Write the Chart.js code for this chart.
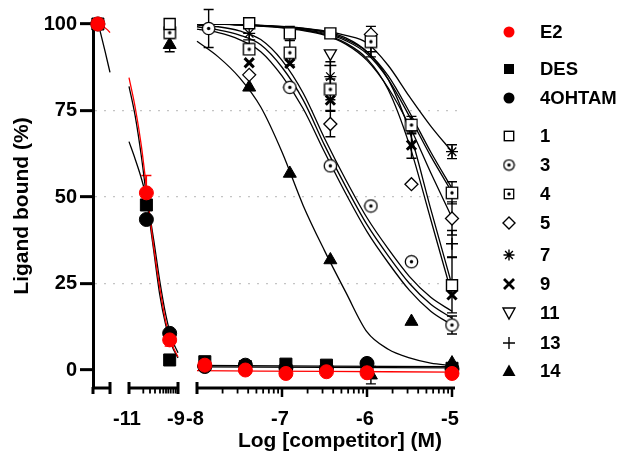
<!DOCTYPE html>
<html>
<head>
<meta charset="utf-8">
<script src="https://cdn.jsdelivr.net/npm/chart.js@4.4.1/dist/chart.umd.min.js"></script>
<style>
  html, body { margin: 0; padding: 0; background: #fff; }
  #wrap { width: 626px; height: 461px; }
</style>
</head>
<body>
<div id="wrap"><canvas id="myChart" width="626" height="461"></canvas></div>
<script>
"use strict";
// ---- data: x values are log [competitor] (M), y values are % ligand bound ----
const refLog = [-11.8, -10.29, -9.34, -7.908, -7.431, -6.954, -6.477, -6, -5];
const e2Bound = [100, 51.2, 8.7, 1.4, 0, -1.0, -0.5, -0.8, -1.0];
const e2Err = [0, 5, 1.8, 0, 0, 0, 0, 0, 0];
const desBound = [100, 47.7, 2.9, 2.4, 1.0, 1.7, 1.4, 0.8, 0.5];
const ohtBound = [100, 43.5, 10.6, 1.0, 1.4, 0.6, 0.5, 1.9, 0.3];

const cmpLog = [-9.34, -7.863, -7.386, -6.908, -6.431, -5.954, -5.477, -5];
const c1 = [100, null, 100.2, 97.3, 97.3, null, null, 24.5];
const c1Err = [0, 0, 0, 2, 0, 0, 0, 8];
const c3 = [null, 98.7, null, 81.7, 59, 47.4, 31.3, 13];
const c3Err = [0, 5.5, 0, 0, 0, 0, 0, 2.6];
const c4 = [97.5, null, 92.7, 91.7, 81.1, 94.9, 70.8, 51.2];
const c4Err = [0, 0, 0, 3.5, 3, 4.4, 2.5, 3.2];
const c5 = [null, null, 85.3, null, 71.1, 97, 53.7, 43.8];
const c5Err = [0, 0, 0, 0, 3.7, 0, 0, 4.8];
const c7 = [null, null, 97.3, null, 84.8, null, null, 63.1];
const c7Err = [0, 0, 0, 0, 4.3, 0, 0, 2];
const c9 = [null, null, 88.8, 88.6, 78, null, 65, 21.7];
const c9Err = [0, 0, 0, 0, 3, 0, 3.8, 0];
const c11 = [null, null, null, null, 91.5, null, null, null];
const c13 = [null, null, 95.4, null, 88, 92, null, 36.5];
const c13Err = [0, 0, 0, 0, 0, 0, 0, 3.8];
const c14 = [94, null, 81.7, 56.8, 31.8, -1.5, 14, 2];
const c14Err = [2, 0, 0, 0, 0, 2.5, 0, 0];

// fitted curves
const seg1FitLog = [-11.8, -11.6, -11.4, -11.3];
const e2FitSeg1 = [100, 99.3, 98.3, 97.5];
const desFitSeg1Log = [-11.72, -11.5, -11.3];
const desFitSeg1 = [98.3, 92, 86];
const seg2FitLog = [-11, -10.75, -10.5, -10.25, -10, -9.75, -9.5, -9.25, -9];
const e2FitSeg2 = [84.5, 76, 65, 50.5, 36, 24, 14, 7.5, 3.8];
const desFitSeg2 = [82, 73.5, 62, 48, 35, 22, 13, 7, 3.5];
const ohtFitSeg2 = [66, 61, 55.5, 48.5, 38, 26, 16, 9, 5];
const refFitSeg3Log = [-8, -6.5, -5];
const e2FitSeg3 = [-0.2, -0.4, -0.6];
const desFitSeg3 = [1.3, 1.15, 1.0];
const ohtFitSeg3 = [0.9, 0.75, 0.6];

const fitLog = [-8, -7.75, -7.5, -7.25, -7, -6.75, -6.5, -6.25, -6, -5.75, -5.5, -5.25, -5];
const fit1 = [100, 100, 99.8, 99.6, 99.2, 98.7, 97.8, 96, 92, 84, 69, 46.5, 24.5];
const fit9 = [100, 100, 99.8, 99.5, 99, 98.3, 97, 94.5, 90, 81, 65, 43.5, 21.7];
const fit4 = [100, 100, 99.8, 99.5, 99.2, 98.6, 97.6, 95.6, 92, 85, 74.5, 63, 52.5];
const fit11 = [100, 100, 99.8, 99.5, 99.1, 98.4, 97.3, 95.2, 91.4, 84, 73.3, 61.8, 51.4];
const fit5 = [100, 100, 99.7, 99.4, 98.9, 98.1, 96.8, 94.2, 89.5, 81.5, 70.5, 57, 44];
const fit7 = [100, 100, 99.8, 99.6, 99.3, 98.8, 98, 96.7, 94.5, 88, 79, 70.5, 63.1];
const fit3 = [98.5, 97.5, 95.5, 92, 85, 75.5, 63, 51, 40, 31, 23, 17, 13];
const fit13 = [99.2, 98.3, 96.8, 94, 87.5, 78, 65, 53, 42, 33, 25, 19, 15];
const fit5b = [99.7, 99.2, 98, 95.5, 89.5, 80, 67, 55, 44, 35, 27, 21, 17];
const fit14 = [95, 90.5, 84.5, 76, 63, 47.5, 34.5, 22.5, 11, 6, 3.5, 2, 1.3];

const yTicks = [0, 25, 50, 75, 100];
const xTickValues = [-11, -9, -8, -7, -6, -5];
const xTickLabels = ['-11', '-9', '-8', '-7', '-6', '-5'];
const seg2MinorLog = [-10.416, -10.143, -9.939, -9.735, -9.6, -9.49, -9.396, -9.298, -9.19, -9.094];

// ---- broken x axis: each piece of the log axis gets its own stretch ----
const breaks = [
  { from: -12, to: -11.3, start: 0, end: 17 },
  { from: -11, to: -9, start: 36, end: 85 },
  { from: -8, to: -5, start: 104, end: 359 }
];
function axisPos(v) {
  for (const b of breaks) {
    if (v >= b.from - 1e-9 && v <= b.to + 1e-9) {
      return b.start + (v - b.from) / (b.to - b.from) * (b.end - b.start);
    }
  }
  return NaN;
}

const FONT = "'Liberation Sans', Arial, Helvetica, sans-serif";
Chart.defaults.font.family = FONT;

function markerCanvas(kind, size, lw) {
  const c = document.createElement('canvas');
  c.width = size;
  c.height = size;
  const g = c.getContext('2d');
  const m = size / 2;
  g.lineWidth = lw;
  g.strokeStyle = '#000';
  g.fillStyle = '#fff';
  if (kind === 'circle') {
    g.beginPath();
    g.arc(m, m, m - lw, 0, 2 * Math.PI);
    g.fill();
    g.stroke();
  } else {
    g.fillRect(lw, lw, size - 2 * lw, size - 2 * lw);
    g.strokeRect(lw, lw, size - 2 * lw, size - 2 * lw);
  }
  g.fillStyle = '#000';
  g.beginPath();
  g.arc(m, m, 1.7, 0, 2 * Math.PI);
  g.fill();
  return c;
}
const circleDot = markerCanvas('circle', 15, 1.3);
const squareDot = markerCanvas('square', 14, 1.3);
const circleDotSmall = markerCanvas('circle', 13, 1.3);
const squareDotSmall = markerCanvas('square', 12, 1.3);

function pts(xs, ys, errs) {
  const out = [];
  xs.forEach((x, i) => {
    if (ys[i] === null) return;
    out.push({ x: axisPos(x), y: ys[i], err: errs ? errs[i] : 0 });
  });
  return out;
}

function curve(label, xs, ys, color, order) {
  return {
    label: label, data: pts(xs, ys), showLine: true, borderColor: color,
    borderWidth: 1.3, pointRadius: 0, cubicInterpolationMode: 'monotone',
    fill: false, order: order, isFit: true
  };
}

const series = [
  { name: 'E2', xs: refLog, ys: e2Bound, errs: e2Err, color: '#ff0000', style: { pointStyle: 'circle', radius: 7, fill: '#ff0000', border: '#ff0000', bw: 1 }, order: 1 },
  { name: 'DES', xs: refLog, ys: desBound, errs: null, color: '#000', style: { pointStyle: 'rect', radius: 8.5, fill: '#000', border: '#000', bw: 1 }, order: 3 },
  { name: '4OHTAM', xs: refLog, ys: ohtBound, errs: null, color: '#000', style: { pointStyle: 'circle', radius: 7, fill: '#000', border: '#000', bw: 1 }, order: 2 },
  { name: '1', xs: cmpLog, ys: c1, errs: c1Err, color: '#000', style: { pointStyle: 'rect', radius: 7.8, fill: '#fff', border: '#000', bw: 1.4 }, order: 4 },
  { name: '3', xs: cmpLog, ys: c3, errs: c3Err, color: '#000', style: { pointStyle: circleDot, radius: 7, fill: '#fff', border: '#000', bw: 1 }, order: 5 },
  { name: '4', xs: cmpLog, ys: c4, errs: c4Err, color: '#000', style: { pointStyle: squareDot, radius: 7, fill: '#fff', border: '#000', bw: 1 }, order: 6 },
  { name: '5', xs: cmpLog, ys: c5, errs: c5Err, color: '#000', style: { pointStyle: 'rectRot', radius: 6.5, fill: '#fff', border: '#000', bw: 1.3 }, order: 7 },
  { name: '7', xs: cmpLog, ys: c7, errs: c7Err, color: '#000', style: { pointStyle: 'star', radius: 6, fill: '#000', border: '#000', bw: 1.3 }, order: 8 },
  { name: '9', xs: cmpLog, ys: c9, errs: c9Err, color: '#000', style: { pointStyle: 'crossRot', radius: 6.5, fill: '#000', border: '#000', bw: 3 }, order: 9 },
  { name: '11', xs: cmpLog, ys: c11, errs: null, color: '#000', style: { pointStyle: 'triangle', rotation: 180, radius: 7, fill: '#fff', border: '#000', bw: 1.3 }, order: 10 },
  { name: '13', xs: cmpLog, ys: c13, errs: c13Err, color: '#000', style: { pointStyle: 'cross', radius: 6, fill: '#000', border: '#000', bw: 1.4 }, order: 11 },
  { name: '14', xs: cmpLog, ys: c14, errs: c14Err, color: '#000', style: { pointStyle: 'triangle', radius: 7.5, fill: '#000', border: '#000', bw: 1 }, order: 12 }
];

const datasets = series.map(s => ({
  label: s.name,
  data: pts(s.xs, s.ys, s.errs),
  showLine: false,
  pointStyle: s.style.pointStyle,
  rotation: s.style.rotation || 0,
  pointRadius: s.style.radius,
  pointBackgroundColor: s.style.fill,
  pointBorderColor: s.style.border,
  pointBorderWidth: s.style.bw,
  borderColor: s.color,
  backgroundColor: s.style.fill,
  order: s.order,
  clip: false
}));

datasets.push(
  curve('E2 fit', seg1FitLog, e2FitSeg1, '#ff0000', 20),
  curve('E2 fit', seg2FitLog, e2FitSeg2, '#ff0000', 20),
  curve('E2 fit', refFitSeg3Log, e2FitSeg3, '#ff0000', 20),
  curve('DES fit', desFitSeg1Log, desFitSeg1, '#000', 21),
  curve('DES fit', seg2FitLog, desFitSeg2, '#000', 21),
  curve('DES fit', refFitSeg3Log, desFitSeg3, '#000', 21),
  curve('4OHTAM fit', seg2FitLog, ohtFitSeg2, '#000', 22),
  curve('4OHTAM fit', refFitSeg3Log, ohtFitSeg3, '#000', 22),
  curve('1 fit', fitLog, fit1, '#000', 23),
  curve('3 fit', fitLog, fit3, '#000', 23),
  curve('4 fit', fitLog, fit4, '#000', 23),
  curve('5 fit', fitLog, fit5, '#000', 23),
  curve('5b fit', fitLog, fit5b, '#000', 23),
  curve('7 fit', fitLog, fit7, '#000', 23),
  curve('9 fit', fitLog, fit9, '#000', 23),
  curve('11 fit', fitLog, fit11, '#000', 23),
  curve('13 fit', fitLog, fit13, '#000', 23),
  curve('14 fit', fitLog, fit14, '#000', 23)
);

// ---- plugins ----
const errorBars = {
  id: 'errorBars',
  beforeDatasetsDraw(chart) {
    const { ctx, scales: { x, y } } = chart;
    ctx.save();
    chart.data.datasets.forEach(ds => {
      if (ds.isFit) return;
      ds.data.forEach(p => {
        if (!p.err) return;
        const px = x.getPixelForValue(p.x);
        const top = y.getPixelForValue(p.y + p.err);
        const bot = y.getPixelForValue(p.y - p.err);
        ctx.strokeStyle = ds.borderColor;
        ctx.lineWidth = 1.4;
        ctx.beginPath();
        ctx.moveTo(px, top); ctx.lineTo(px, bot);
        ctx.moveTo(px - 5, top); ctx.lineTo(px + 5, top);
        ctx.moveTo(px - 5, bot); ctx.lineTo(px + 5, bot);
        ctx.stroke();
      });
    });
    ctx.restore();
  }
};

function seg(ctx, x1, y1, x2, y2, w) {
  ctx.lineWidth = w;
  ctx.beginPath();
  ctx.moveTo(x1, y1);
  ctx.lineTo(x2, y2);
  ctx.stroke();
}

const brokenAxis = {
  id: 'brokenAxis',
  afterDraw(chart) {
    const { ctx, chartArea, scales: { x, y } } = chart;
    const ya = y.getPixelForValue(y.min);
    ctx.save();
    ctx.strokeStyle = '#000';
    ctx.fillStyle = '#000';
    // y axis continues a little below the x axis
    seg(ctx, chartArea.left, ya - 1, chartArea.left, ya + 6, 3);
    breaks.forEach((b, i) => {
      const x1 = x.getPixelForValue(b.start);
      const x2 = x.getPixelForValue(b.end);
      const last = i === breaks.length - 1;
      seg(ctx, x1, ya, x2 + (last ? 3 : 0), ya, 3);
      if (i > 0) seg(ctx, x1, ya - 6, x1, ya + 6, 3);
      if (!last) seg(ctx, x2, ya - 6, x2, ya + 6, 3);
    });
    // major ticks inside the last piece
    [-7, -6, -5].forEach(v => {
      const px = x.getPixelForValue(axisPos(v));
      seg(ctx, px, ya, px, ya + 9, 2.5);
    });
    // minor ticks
    const minor = seg2MinorLog.slice();
    [-8, -7, -6].forEach(d => {
      for (let k = 2; k <= 9; k++) minor.push(d + Math.log10(k));
    });
    minor.forEach(v => {
      const px = x.getPixelForValue(axisPos(v));
      seg(ctx, px, ya, px, ya + 5.5, 1.8);
    });
    // tick labels
    ctx.font = 'bold 20px ' + FONT;
    ctx.textAlign = 'center';
    ctx.textBaseline = 'middle';
    xTickValues.forEach((v, i) => {
      const px = x.getPixelForValue(axisPos(v));
      ctx.fillText(xTickLabels[i], px - 2, ya + 31);
    });
    // axis title
    ctx.font = 'bold 21px ' + FONT;
    ctx.fillText('Log [competitor] (M)', 340, ya + 53);
    ctx.restore();
  }
};

const legendRows = [32, 69, 98, 136, 165, 194, 223, 255, 284, 313, 343, 371];
function legendMarker(ctx, name, cx, cy) {
  ctx.save();
  ctx.strokeStyle = '#000';
  ctx.fillStyle = '#000';
  ctx.lineWidth = 1.4;
  ctx.beginPath();
  switch (name) {
    case 'E2':
      ctx.fillStyle = '#ff0000';
      ctx.arc(cx, cy, 5.5, 0, 2 * Math.PI); ctx.fill(); break;
    case 'DES':
      ctx.fillRect(cx - 5, cy - 5, 10, 10); break;
    case '4OHTAM':
      ctx.arc(cx, cy, 5.5, 0, 2 * Math.PI); ctx.fill(); break;
    case '1':
      ctx.strokeRect(cx - 4.7, cy - 4.7, 9.4, 9.4); break;
    case '3':
      ctx.drawImage(circleDotSmall, cx - 6.5, cy - 6.5); break;
    case '4':
      ctx.drawImage(squareDotSmall, cx - 6, cy - 6); break;
    case '5':
      ctx.moveTo(cx, cy - 6); ctx.lineTo(cx + 6, cy); ctx.lineTo(cx, cy + 6); ctx.lineTo(cx - 6, cy); ctx.closePath(); ctx.stroke(); break;
    case '7':
      for (let a = 0; a < 4; a++) {
        const t = a * Math.PI / 4;
        ctx.moveTo(cx - 5.5 * Math.cos(t), cy - 5.5 * Math.sin(t));
        ctx.lineTo(cx + 5.5 * Math.cos(t), cy + 5.5 * Math.sin(t));
      }
      ctx.stroke(); break;
    case '9':
      ctx.lineWidth = 2.8;
      ctx.moveTo(cx - 5, cy - 5); ctx.lineTo(cx + 5, cy + 5);
      ctx.moveTo(cx + 5, cy - 5); ctx.lineTo(cx - 5, cy + 5);
      ctx.stroke(); break;
    case '11':
      ctx.moveTo(cx - 6, cy - 5); ctx.lineTo(cx + 6, cy - 5); ctx.lineTo(cx, cy + 6); ctx.closePath(); ctx.stroke(); break;
    case '13':
      ctx.moveTo(cx - 6, cy); ctx.lineTo(cx + 6, cy);
      ctx.moveTo(cx, cy - 6); ctx.lineTo(cx, cy + 6);
      ctx.stroke(); break;
    case '14':
      ctx.moveTo(cx, cy - 6.5); ctx.lineTo(cx + 6.5, cy + 5); ctx.lineTo(cx - 6.5, cy + 5); ctx.closePath(); ctx.fill(); break;
  }
  ctx.restore();
}
const sideLegend = {
  id: 'sideLegend',
  afterDraw(chart) {
    const { ctx } = chart;
    ctx.save();
    ctx.font = 'bold 18.5px ' + FONT;
    ctx.fillStyle = '#000';
    ctx.textAlign = 'left';
    ctx.textBaseline = 'middle';
    series.forEach((s, i) => {
      legendMarker(ctx, s.name, 509, legendRows[i]);
      ctx.fillStyle = '#000';
      ctx.fillText(s.name, 540, legendRows[i] + 1);
    });
    ctx.restore();
  }
};

document.addEventListener('DOMContentLoaded', () => {
  const canvas = document.getElementById('myChart');
  if (!canvas) {
    console.error('Canvas element not found');
    return;
  }
  const ctx = canvas.getContext('2d');
  new Chart(ctx, {
    type: 'line',
    data: { datasets: datasets },
    options: {
      responsive: false,
      animation: false,
      devicePixelRatio: 1,
      layout: { padding: { left: 0, right: 166, top: 24, bottom: 73 } },
      plugins: { legend: { display: false }, tooltip: { enabled: false } },
      scales: {
        x: { type: 'linear', display: false, min: 0, max: 367 },
        y: {
          type: 'linear',
          min: -5.2,
          max: 100,
          afterFit: (s) => { s.width = 93; },
          afterBuildTicks: (s) => { s.ticks = yTicks.map(v => ({ value: v })); },
          border: { display: true, color: '#000', width: 3, dash: [2, 7] },
          grid: {
            drawOnChartArea: true,
            color: (c) => (c.tick && [25, 50, 75].includes(c.tick.value)) ? '#c4c4c4' : 'rgba(0,0,0,0)',
            lineWidth: 1.3,
            tickColor: '#000',
            tickWidth: 3,
            tickLength: 13
          },
          ticks: { color: '#000', font: { size: 20, weight: 'bold' }, padding: 3 },
          title: {
            display: true, text: 'Ligand bound (%)', color: '#000',
            font: { size: 21, weight: 'bold' }, padding: { top: 10, bottom: 0 }
          }
        }
      }
    },
    plugins: [errorBars, brokenAxis, sideLegend]
  });
});
</script>
</body>
</html>
